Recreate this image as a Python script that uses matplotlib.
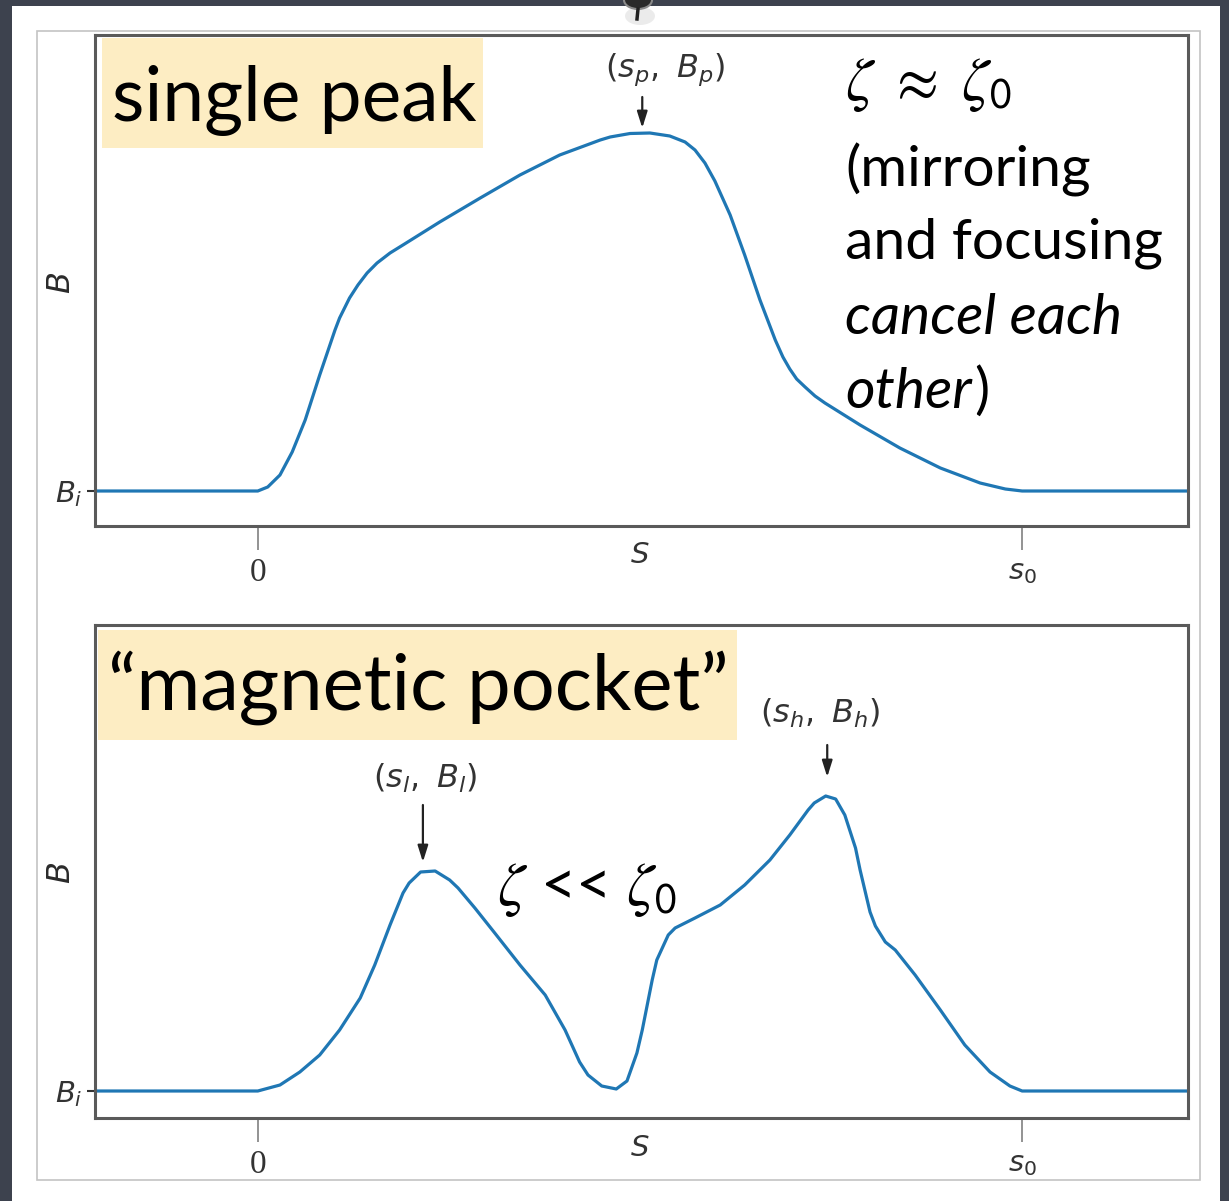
import matplotlib
matplotlib.use('Agg')
import matplotlib.pyplot as plt
from matplotlib.patches import Rectangle, Ellipse

plt.rcParams['mathtext.fontset'] = 'dejavusans'

# ---- field-strength profiles along the path (s0 = 1, B_i = 1) ----
s_single = [-0.25, 0.0, 0.013, 0.029, 0.045, 0.062, 0.081, 0.101, 0.107, 0.120,
            0.131, 0.143, 0.156, 0.173, 0.192, 0.238, 0.291, 0.343, 0.395, 0.448,
            0.461, 0.487, 0.513, 0.539, 0.559, 0.572, 0.585, 0.598, 0.618, 0.637,
            0.657, 0.677, 0.687, 0.696, 0.705, 0.716, 0.729, 0.742, 0.788, 0.840,
            0.893, 0.945, 0.978, 1.0, 1.25]
B_single = [1.0, 1.0, 1.04, 1.16, 1.39, 1.71, 2.16, 2.61, 2.73, 2.93,
            3.06, 3.18, 3.28, 3.38, 3.47, 3.69, 3.93, 4.16, 4.36, 4.51,
            4.54, 4.575, 4.58, 4.55, 4.49, 4.41, 4.28, 4.10, 3.76, 3.36,
            2.91, 2.51, 2.34, 2.22, 2.12, 2.04, 1.95, 1.88, 1.66, 1.43,
            1.23, 1.08, 1.02, 1.0, 1.0]

s_pocket = [-0.25, 0.0, 0.029, 0.055, 0.081, 0.107, 0.134, 0.153, 0.173, 0.190,
            0.198, 0.213, 0.232, 0.251, 0.262, 0.284, 0.310, 0.343, 0.376, 0.402,
            0.421, 0.432, 0.450, 0.469, 0.483, 0.496, 0.503, 0.516, 0.522, 0.537,
            0.546, 0.572, 0.605, 0.637, 0.670, 0.696, 0.720, 0.728, 0.743, 0.756,
            0.768, 0.782, 0.788, 0.801, 0.808, 0.821, 0.834, 0.860, 0.893, 0.925,
            0.958, 0.984, 1.0, 1.25]
B_pocket = [1.0, 1.0, 1.06, 1.19, 1.36, 1.61, 1.93, 2.26, 2.66, 2.98,
            3.08, 3.19, 3.20, 3.11, 3.03, 2.83, 2.58, 2.26, 1.96, 1.61,
            1.29, 1.16, 1.05, 1.02, 1.10, 1.38, 1.61, 2.11, 2.31, 2.56,
            2.63, 2.73, 2.86, 3.06, 3.31, 3.56, 3.81, 3.88, 3.95, 3.92,
            3.76, 3.43, 3.21, 2.79, 2.65, 2.49, 2.41, 2.16, 1.81, 1.46,
            1.19, 1.05, 1.0, 1.0]

# annotated extrema: label, label position, arrow x, arrow tail, arrow tip
ann_single = [('$(s_p,\\ B_p)$', 0.533, 5.21, 0.503, 4.94, 4.63)]
ann_pocket = [('$(s_l,\\ B_l)$', 0.219, 4.13, 0.216, 3.86, 3.29),
              ('$(s_h,\\ B_h)$', 0.736, 4.78, 0.745, 4.46, 4.14)]

xtick_pos = [0.0, 1.0]
xtick_txt = ['0', '$s_0$']
ytick_pos = [1.0]
ytick_txt = ['$B_i$']

W, H = 1229, 1201
fig = plt.figure(figsize=(W / 100, H / 100), dpi=100)
fig.patch.set_facecolor('#3d424e')


def fx(x):
    return x / W


def fy(y):
    return 1 - y / H


def px_rect(x0, y0, x1, y1):
    return [fx(x0), fy(y1), (x1 - x0) / W, (y1 - y0) / H]


# slide sheet and the thin frame around the plot image
fig.add_artist(Rectangle((fx(12), fy(1205)), (1220 - 12) / W, (1205 - 6) / H,
                         transform=fig.transFigure, facecolor='white',
                         edgecolor='none', zorder=0))
fig.add_artist(Rectangle((fx(37), fy(1180)), (1200 - 37) / W, (1180 - 31) / H,
                         transform=fig.transFigure, facecolor='none',
                         edgecolor='#c4c4c4', lw=1.2, zorder=1))
# pin at the top
fig.add_artist(Ellipse((fx(640), fy(16)), 30 / W, 18 / H, transform=fig.transFigure,
                       facecolor='#d8d8d8', edgecolor='none', alpha=0.5, zorder=1))
fig.add_artist(Ellipse((fx(638), fy(0)), 28 / W, 18 / H, transform=fig.transFigure,
                       facecolor='#2a2a2a', edgecolor='#8a8a8a', lw=1.5, zorder=2))
fig.add_artist(plt.Line2D([fx(638), fx(637)], [fy(9), fy(19)], transform=fig.transFigure,
                          color='#222222', lw=2.5, zorder=2))


def setup(ax, ylim, ylab_y):
    ax.set_xlim(-0.213, 1.217)
    ax.set_ylim(*ylim)
    for sp in ax.spines.values():
        sp.set_color('#5a5a5a')
        sp.set_linewidth(2.2)
    ax.set_xticks(xtick_pos)
    labs = ax.set_xticklabels(xtick_txt, fontsize=21, color='#333333')
    labs[0].set_fontfamily('Liberation Serif')
    labs[0].set_fontsize(24)
    ax.tick_params(axis='x', length=17, width=1.3, color='#8a8a8a', pad=6)
    ax.set_yticks(ytick_pos)
    ax.set_yticklabels(ytick_txt, fontsize=21, color='#333333')
    ax.tick_params(axis='y', length=6, width=1.5, color='#333333', pad=3)
    fig.text(fx(62), fy(ylab_y), '$B$', rotation=90, ha='center', va='center',
             fontsize=23, color='#2a2a2a')
    ax.text(0.4986, -0.06, '$S$', transform=ax.transAxes, ha='center', va='center',
            fontsize=21, color='#333333')


def mark(ax, items):
    for txt, tx, ty, ax_s, tail, tip in items:
        ax.text(tx, ty, txt, ha='center', va='center', fontsize=23, color='#333333')
        ax.annotate('', xy=(ax_s, tip), xytext=(ax_s, tail),
                    arrowprops=dict(arrowstyle='-|>,head_width=0.22,head_length=0.7',
                                    color='#222222', lw=1.6, mutation_scale=14,
                                    shrinkA=0, shrinkB=0))


ax1 = fig.add_axes(px_rect(95, 35, 1188, 526))
setup(ax1, (0.65, 5.56), 283)
ax1.plot(s_single, B_single, color='#1f77b4', lw=2.3)
mark(ax1, ann_single)

ax2 = fig.add_axes(px_rect(95, 625, 1188, 1118))
setup(ax2, (0.73, 5.66), 873)
ax2.plot(s_pocket, B_pocket, color='#1f77b4', lw=2.3)
mark(ax2, ann_pocket)

# slide overlays: highlighted titles and remarks
font = ['Lato', 'DejaVu Sans']
box = '#fdedc3'
fig.add_artist(Rectangle((fx(102), fy(148)), (483 - 102) / W, (148 - 38) / H,
                         transform=fig.transFigure, facecolor=box, edgecolor='none', zorder=5))
fig.text(fx(112), fy(100), 'single peak', family=font, fontsize=54,
         ha='left', va='center', zorder=6)
fig.add_artist(Rectangle((fx(98), fy(740)), (737 - 98) / W, (740 - 630) / H,
                         transform=fig.transFigure, facecolor=box, edgecolor='none', zorder=5))
fig.text(fx(108), fy(688), '\u201cmagnetic pocket\u201d', family=font, fontsize=56,
         ha='left', va='center', zorder=6)

rsize = 41
fig.text(fx(845), fy(85), '$\\zeta\\ \\approx\\ \\zeta_\\mathsf{0}$', math_fontfamily='stix',
         fontsize=44, ha='left', va='center', zorder=6)
fig.text(fx(845), fy(170), '(mirroring', family=font, fontsize=rsize,
         ha='left', va='center', zorder=6)
fig.text(fx(845), fy(243), 'and focusing', family=font, fontsize=rsize,
         ha='left', va='center', zorder=6)
fig.text(fx(845), fy(318), 'cancel each', family=font, fontsize=rsize, style='italic',
         ha='left', va='center', zorder=6)
t = fig.text(fx(845), fy(392), 'other', family=font, fontsize=rsize, style='italic',
             ha='left', va='center', zorder=6)
fig.canvas.draw()
bb = t.get_window_extent()
fig.text(fx(bb.x1 + 2), fy(392), ')', family=font, fontsize=rsize,
         ha='left', va='center', zorder=6)
fig.text(fx(497), fy(890), '$\\zeta$ << $\\zeta_\\mathsf{0}$', family=font,
         math_fontfamily='stix', fontsize=44, ha='left', va='center', zorder=6)

fig.savefig('out.png', dpi=100, facecolor=fig.get_facecolor())
